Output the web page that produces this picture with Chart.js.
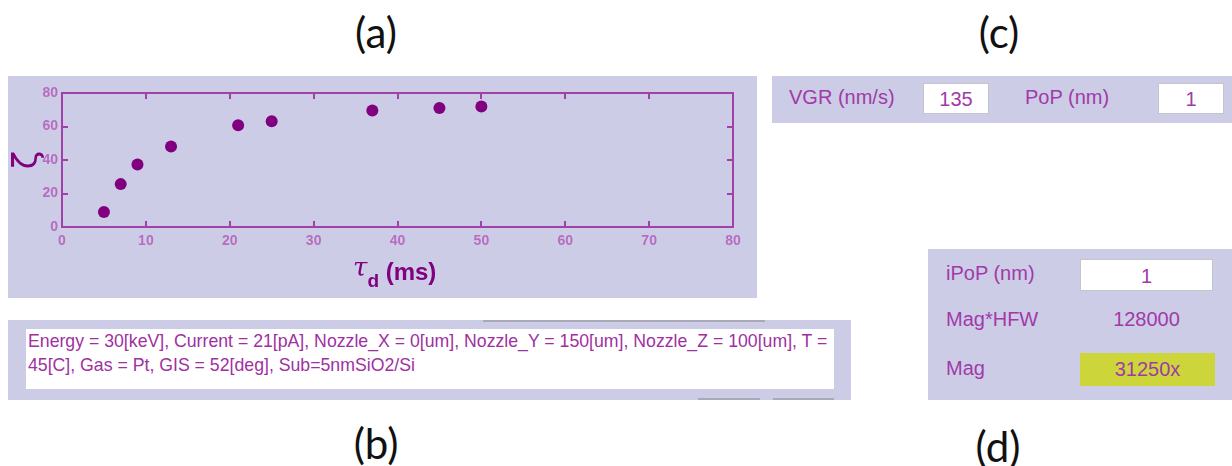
<!DOCTYPE html>
<html>
<head>
<meta charset="utf-8">
<script src="https://cdn.jsdelivr.net/npm/chart.js@4/dist/chart.umd.min.js"></script>
<style>
  html, body { margin: 0; padding: 0; background: #fff; }
  body { width: 1232px; height: 466px; position: relative; overflow: hidden; font-family: "Liberation Sans", Arial, sans-serif; }
  .lbl { position: absolute; width: 100px; height: 50px; line-height: 50px; text-align: center; font-family: Lato, "Open Sans", sans-serif; font-size: 42px; color: #111; }
  .panel { position: absolute; background: #cccce6; }
  .txt { position: absolute; font-size: 20px; line-height: 24px; color: #a13aa8; white-space: nowrap; }
  .box { position: absolute; background: #fff; border: 1px solid #c4c4cc; box-sizing: border-box; text-align: center; font-size: 20px; color: #a13aa8; }
  #xt { position: absolute; left: 345px; top: 183px; font-weight: bold; font-size: 24px; line-height: 24px; color: #800080; white-space: nowrap; }
  #xt .tau { font-style: italic; font-size: 26px; font-family: "DejaVu Serif", serif; font-weight: normal; position: relative; top: -4px; }
  #xt sub { font-size: 19px; vertical-align: -7px; }
  #info { position: absolute; left: 18px; top: 9px; width: 808px; height: 60px; background: #fff; font-size: 17.7px; line-height: 24px; color: #a0309f; padding-left: 2px; box-sizing: border-box; white-space: nowrap; }
</style>
</head>
<body>
<div class="lbl" style="left:326px; top:7px;">(a)</div>
<div class="lbl" style="left:326px; top:418px;">(b)</div>
<div class="lbl" style="left:949px; top:7px;">(c)</div>
<div class="lbl" style="left:948px; top:421px;">(d)</div>

<div class="panel" id="pa" style="left:8px; top:76px; width:749px; height:222px;">
  <canvas id="chart" width="749" height="222"></canvas>
  <div id="xt"><span class="tau">τ</span><sub>d</sub> (ms)</div>
</div>

<div class="panel" style="left:8px; top:320px; width:843px; height:80px;">
  <div style="position:absolute; left:475px; top:0; width:282px; height:2px; background:#a9a9b8;"></div>
  <div style="position:absolute; left:690px; top:78px; width:62px; height:2px; background:#a9a9b8;"></div>
  <div style="position:absolute; left:765px; top:78px; width:61px; height:2px; background:#a9a9b8;"></div>
  <div id="info">Energy = 30[keV], Current = 21[pA], Nozzle_X = 0[um], Nozzle_Y = 150[um], Nozzle_Z = 100[um], T =<br>45[C], Gas = Pt, GIS = 52[deg], Sub=5nmSiO2/Si</div>
</div>

<div class="panel" style="left:772px; top:76px; width:460px; height:47px;">
  <div class="txt" style="left:17px; top:9px;">VGR (nm/s)</div>
  <div class="box" style="left:151px; top:7px; width:66px; height:31px; line-height:31px;">135</div>
  <div class="txt" style="left:253px; top:9px;">PoP (nm)</div>
  <div class="box" style="left:386px; top:7px; width:66px; height:31px; line-height:31px;">1</div>
</div>

<div class="panel" style="left:928px; top:249px; width:304px; height:151px;">
  <div class="txt" style="left:18px; top:12px;">iPoP (nm)</div>
  <div class="box" style="left:152px; top:10px; width:133px; height:32px; line-height:32px;">1</div>
  <div class="txt" style="left:18px; top:58px;">Mag*HFW</div>
  <div class="txt" style="left:152px; top:58px; width:133px; text-align:center;">128000</div>
  <div class="txt" style="left:18px; top:107px;">Mag</div>
  <div class="box" style="left:152px; top:104px; width:135px; height:33px; line-height:33px; background:#ccd63a; border:none;">31250x</div>
</div>

<script>
// tau_d (ms) vs zeta
const tauD = [5, 7, 9, 13, 21, 25, 37, 45, 50];
const zeta = [9, 25.6, 37.3, 48, 60.7, 63.1, 69.5, 71.1, 72];
const xTicks = [0, 10, 20, 30, 40, 50, 60, 70, 80];
const yTicks = [0, 20, 40, 60, 80];

const axisColor = '#a040a8';
const tickColor = '#b86cc0';
const tickFont = { family: 'Liberation Sans', size: 14, weight: 'bold' };
const TICK = 6;

const edge = (pos, labels) => ({
  type: 'linear',
  position: pos,
  min: 0,
  max: 80,
  afterBuildTicks: (s) => { s.ticks = (s.axis === 'x' ? xTicks : yTicks).map((v) => ({ value: v })); },
  ticks: { display: labels, color: tickColor, font: tickFont, padding: pos === 'bottom' ? 6 : 4 },
  grid: { drawOnChartArea: false, drawTicks: false },
  border: { display: true, color: axisColor, width: 2 }
});

// small tick marks pointing into the plot on all four sides
const innerTicks = {
  id: 'innerTicks',
  afterDraw(chart) {
    const { ctx, chartArea: a, scales } = chart;
    ctx.save();
    ctx.strokeStyle = axisColor;
    ctx.lineWidth = 2;
    ctx.beginPath();
    xTicks.forEach((v) => {
      const px = Math.round(scales.x.getPixelForValue(v));
      ctx.moveTo(px, a.bottom); ctx.lineTo(px, a.bottom - TICK);
      ctx.moveTo(px, a.top); ctx.lineTo(px, a.top + TICK);
    });
    yTicks.forEach((v) => {
      const py = Math.round(scales.y.getPixelForValue(v));
      ctx.moveTo(a.left, py); ctx.lineTo(a.left + TICK, py);
      ctx.moveTo(a.right, py); ctx.lineTo(a.right - TICK, py);
    });
    ctx.stroke();
    ctx.restore();
  }
};

const sx = edge('bottom', true);
sx.afterFit = (s) => { s.height = 71; };
const sy = edge('left', true);
sy.afterFit = (s) => { s.width = 54; };
sy.title = { display: true, text: 'ζ', color: '#800080', font: { family: 'DejaVu Sans', size: 34 }, padding: { top: 0, bottom: 0 } };
const sx2 = edge('top', false);
sx2.afterFit = (s) => { s.height = 0; };
const sy2 = edge('right', false);
sy2.afterFit = (s) => { s.width = 0; };

new Chart(document.getElementById('chart'), {
  type: 'scatter',
  data: {
    datasets: [{
      data: tauD.map((t, i) => ({ x: t, y: zeta[i] })),
      backgroundColor: '#800080',
      borderWidth: 0,
      pointRadius: 6
    }]
  },
  options: {
    responsive: false,
    animation: false,
    layout: { padding: { left: 0, top: 17, right: 24, bottom: 0 } },
    plugins: { legend: { display: false }, tooltip: { enabled: false } },
    scales: { x: sx, y: sy, x2: sx2, y2: sy2 }
  },
  plugins: [innerTicks]
});
</script>
</body>
</html>
